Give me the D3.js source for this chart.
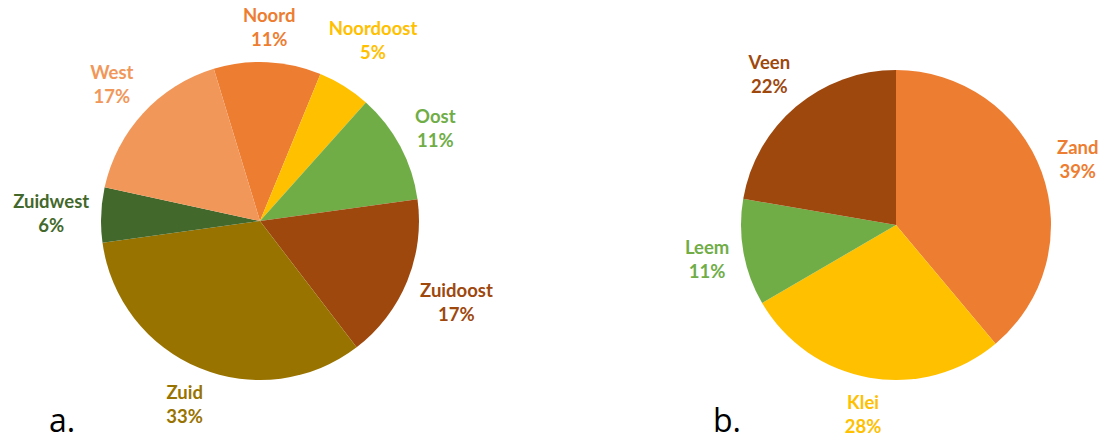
<!DOCTYPE html>
<html>
<head>
<meta charset="utf-8">
<script src="https://cdn.jsdelivr.net/npm/d3@7"></script>
<style>
  body { margin: 0; background: #fff; }
  svg { display: block; }
</style>
</head>
<body>
<svg id="chart" width="1104" height="440"></svg>
<script>
// pie a: regions (order clockwise, starting at Noord)
const regions = ["Noord", "Noordoost", "Oost", "Zuidoost", "Zuid", "Zuidwest", "West"];
const regionValues = [10.9, 5.4, 11.2, 16.8, 33.2, 5.6, 16.9];
const regionColors = ["#ED7D31", "#FFC000", "#70AD47", "#9E480E", "#997300", "#43682B", "#F1975A"];

// pie b: soil types (clockwise from 12 o'clock)
const soils = ["Zand", "Klei", "Leem", "Veen"];
const soilValues = [38.9, 27.7, 11.1, 22.3];
const soilColors = ["#ED7D31", "#FFC000", "#70AD47", "#9E480E"];

const svg = d3.select("#chart");
const labelFont = "Lato, 'Open Sans', sans-serif";

function drawPie(opts) {
    const g = svg.append("g").attr("transform", `translate(${opts.cx},${opts.cy})`);
    const data = opts.names.map((n, i) => ({name: n, value: opts.values[i], color: opts.colors[i]}));

    const pie = d3.pie()
        .value(d => d.value)
        .sort(null)
        .startAngle(opts.start)
        .endAngle(opts.start + 2 * Math.PI);

    const arc = d3.arc().innerRadius(0).outerRadius(opts.r);
    const arcs = pie(data);

    g.selectAll("path").data(arcs)
        .enter()
        .append("path")
        .attr("d", arc)
        .attr("fill", d => d.data.color);

    // labels just outside the circle, pushed out by the size of the text box
    const labels = g.selectAll("g.lbl").data(arcs)
        .enter()
        .append("g")
        .attr("class", "lbl");

    labels.append("text")
        .attr("text-anchor", "middle")
        .attr("y", -4)
        .attr("fill", d => d.data.color)
        .style("font-family", labelFont)
        .style("font-weight", "bold")
        .style("font-size", "18.5px")
        .text(d => d.data.name);

    labels.append("text")
        .attr("text-anchor", "middle")
        .attr("y", 20)
        .attr("fill", d => d.data.color)
        .style("font-family", labelFont)
        .style("font-weight", "bold")
        .style("font-size", "18.5px")
        .text(d => Math.round(d.data.value) + "%");

    labels.each(function (d) {
        const box = this.getBBox();
        const a = (d.startAngle + d.endAngle) / 2;
        const hw = box.width / 2, hh = box.height / 2;
        const dist = opts.r + 11 + Math.abs(Math.sin(a)) * hw + Math.abs(Math.cos(a)) * hh;
        const bx = box.x + hw, by = box.y + hh;
        const x = Math.sin(a) * dist - bx;
        const y = -Math.cos(a) * dist - by;
        d3.select(this).attr("transform", `translate(${x},${y})`);
    });
}

drawPie({cx: 260, cy: 221, r: 159, names: regions, values: regionValues,
    colors: regionColors, start: -16.9 * Math.PI / 180});
drawPie({cx: 896, cy: 225, r: 155, names: soils, values: soilValues,
    colors: soilColors, start: 0});

svg.append("text").attr("x", 49).attr("y", 432)
    .style("font-family", "'Open Sans', sans-serif")
    .style("font-size", "32px")
    .attr("fill", "#000")
    .text("a.");

svg.append("text").attr("x", 713).attr("y", 432)
    .style("font-family", "'Open Sans', sans-serif")
    .style("font-size", "32px")
    .attr("fill", "#000")
    .text("b.");
</script>
</body>
</html>
